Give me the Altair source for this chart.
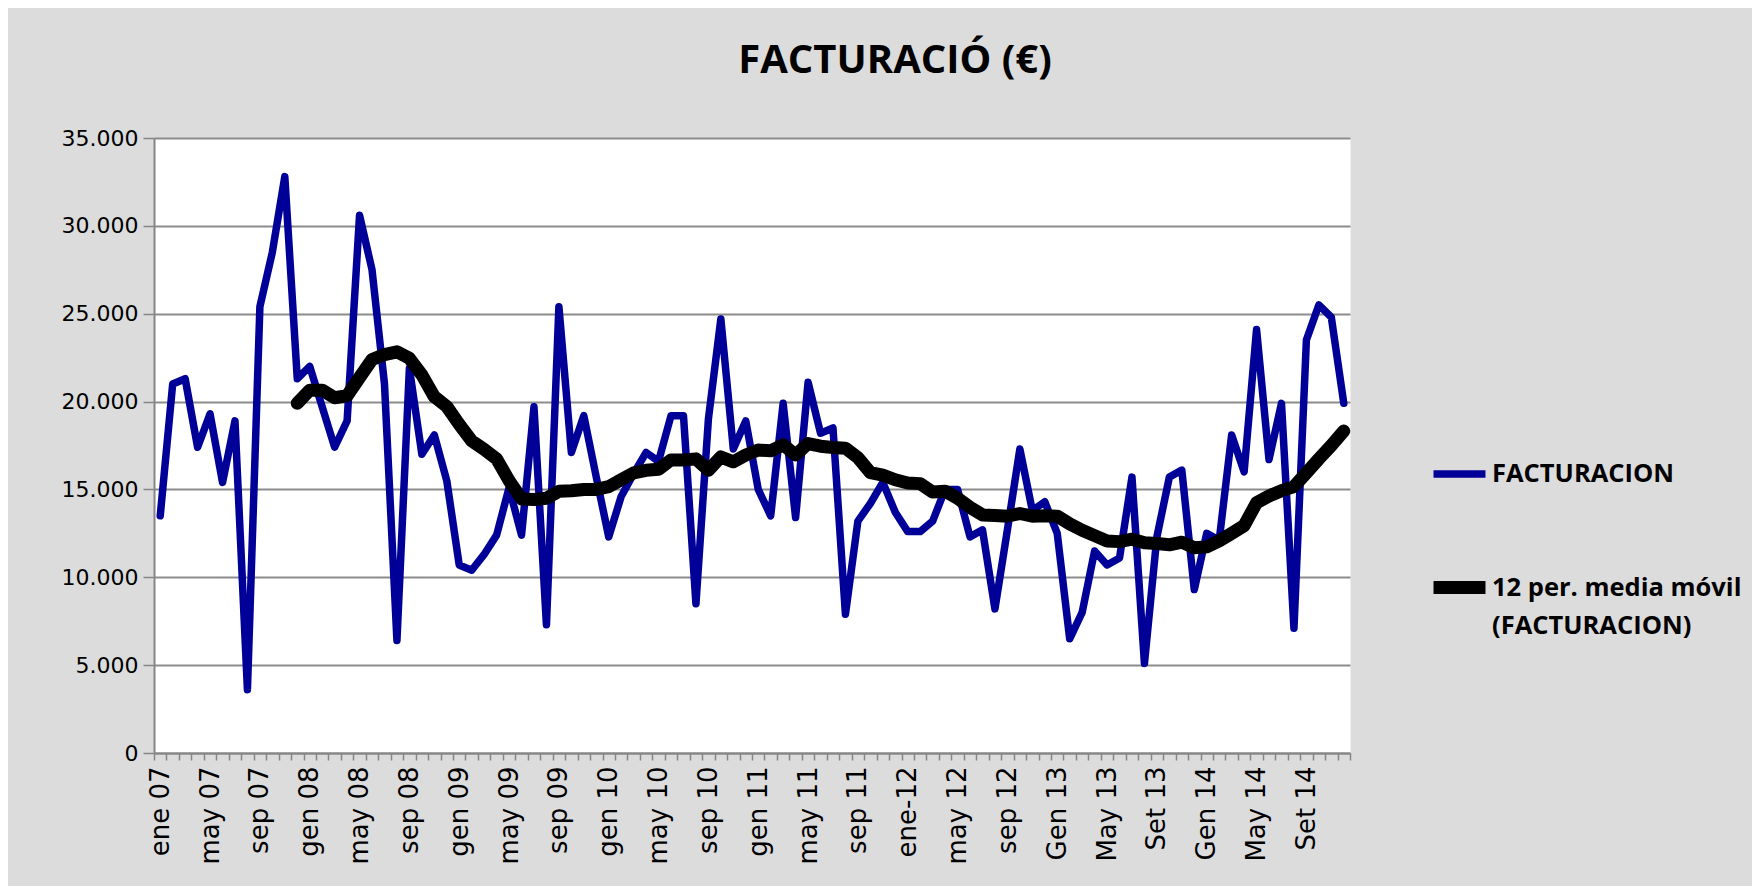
import json
import altair as alt
import pandas as pd

# ---------------- data ----------------
tick_labels = ["ene 07", "may 07", "sep 07", "gen 08", "may 08", "sep 08",
               "gen 09", "may 09", "sep 09", "gen 10", "may 10", "sep 10",
               "gen 11", "may 11", "sep 11", "ene-12", "may 12", "sep 12",
               "Gen 13", "May 13", "Set 13", "Gen 14", "May 14", "Set 14"]

facturacion = [
    13500, 21000, 21300, 17400, 19300, 15400, 18900, 3600, 25400, 28500, 32800, 21300,
    22000, 19700, 17400, 18900, 30600, 27500, 21000, 6400, 21900, 17000, 18100, 15500,
    10700, 10400, 11300, 12400, 15100, 12400, 19700, 7300, 25400, 17100, 19200, 15700,
    12300, 14600, 15900, 17100, 16600, 19200, 19200, 8500, 19000, 24700, 17300, 18900,
    15000, 13500, 19900, 13400, 21100, 18200, 18500, 7900, 13200, 14200, 15400, 13700,
    12600, 12600, 13200, 15000, 15000, 12300, 12700, 8200, 12700, 17300, 13800, 14300,
    12500, 6500, 8000, 11500, 10700, 11100, 15700, 5100, 12300, 15700, 16100, 9300,
    12500, 12100, 18100, 16000, 24100, 16700, 19900, 7100, 23500, 25500, 24800, 19900,
]

media_movil_inicio = 11
media_movil = [
    19900, 20650, 20650, 20220, 20330, 21370, 22390, 22670, 22830, 22460, 21520, 20280,
    19720, 18700, 17760, 17280, 16740, 15500, 14460, 14430, 14500, 14890, 14920, 15000,
    15000, 15160, 15550, 15940, 16090, 16150, 16680, 16680, 16740, 16090, 16850, 16570,
    16960, 17240, 17200, 17540, 16960, 17610, 17460, 17390, 17350, 16810, 15950, 15810,
    15550, 15370, 15330, 14850, 14900, 14500, 13980, 13550, 13520, 13480, 13630, 13480,
    13500, 13480, 13040, 12680, 12370, 12070, 12030, 12170, 11960, 11920, 11850, 12000,
    11680, 11730, 12070, 12500, 12940, 14240, 14630, 14930, 15160, 15940, 16740, 17500,
    18320,
]

series_names = ["FACTURACION", "12 per. media móvil (FACTURACION)"]
series_colors = ["#000099", "#000000"]
series_widths = [7.5, 13]

y_ticks = [0, 5000, 10000, 15000, 20000, 25000, 30000, 35000]

rows = []
for i, v in enumerate(facturacion):
    rows.append({"mes": i, "serie": series_names[0], "valor": v})
for k, v in enumerate(media_movil):
    rows.append({"mes": media_movil_inicio + k, "serie": series_names[1], "valor": v})
df = pd.DataFrame(rows)

n_months = len(facturacion)
label_expr_x = ("datum.value % 4 == 0 ? " + json.dumps(tick_labels, ensure_ascii=False)
                + "[floor(datum.value / 4)] : ''")
legend_label_expr = ("datum.label == '" + series_names[1] + "' ? "
                     "['12 per. media móvil', '(FACTURACION)'] : datum.label")

AX = "#868686"

x = alt.X(
    "mes:O",
    scale=alt.Scale(type="band", paddingInner=0, paddingOuter=0,
                    domain=list(range(n_months))),
    axis=alt.Axis(title=None, tickBand="extent", labelExpr=label_expr_x,
                  labelAngle=270, labelFont="DejaVu Sans", labelFontSize=26,
                  labelColor="black", labelPadding=6, tickSize=7, tickColor=AX,
                  tickWidth=1.5, domainColor=AX, domainWidth=2, labelOverlap=False,
                  grid=False),
)
y = alt.Y(
    "valor:Q",
    scale=alt.Scale(domain=[0, 35000], nice=False, zero=True),
    axis=alt.Axis(title=None, values=y_ticks,
                  labelExpr="replace(format(datum.value, ','), ',', '.')",
                  labelFont="DejaVu Sans", labelFontSize=22, labelColor="black",
                  tickSize=11, tickColor=AX, tickWidth=1.5, gridColor="#8c8c8c",
                  gridWidth=2, domainColor=AX, domainWidth=2, labelPadding=5),
)
color = alt.Color(
    "serie:N",
    scale=alt.Scale(domain=series_names, range=series_colors),
    legend=alt.Legend(title=None, orient="none", legendX=1273, legendY=306,
                      direction="vertical", symbolType="stroke", symbolSize=2700,
                      labelFont="Open Sans", labelFontSize=25.5, labelFontWeight="bold",
                      labelColor="black", labelExpr=legend_label_expr, rowPadding=66,
                      labelOffset=0, padding=0, labelLimit=0),
)
stroke_w = alt.StrokeWidth(
    "serie:N",
    scale=alt.Scale(domain=series_names, range=series_widths),
)

base = alt.Chart(df).encode(x=x, y=y, color=color, strokeWidth=stroke_w)

blue = base.transform_filter(alt.datum.serie == series_names[0]).mark_line(
    strokeCap="round", strokeJoin="round")
black = base.transform_filter(alt.datum.serie == series_names[1]).mark_line(
    strokeCap="round", strokeJoin="round")

chart = alt.layer(blue, black).properties(
    width=1196,
    height=615,
    padding={"left": 146, "top": 130, "right": 402, "bottom": 133},
    autosize=alt.AutoSizeParams(type="none"),
    background="#dcdcdc",
    title=alt.TitleParams("FACTURACIÓ (€)", font="Open Sans", fontSize=40,
                          fontWeight="bold", color="black", anchor="middle",
                          frame="group", dx=143, offset=46),
).configure(
    style={"guide-label": {"lineHeight": 38}}
).configure_view(fill="white", stroke="transparent")

chart.save("out.html", embed_options={"renderer": "svg", "actions": False})
